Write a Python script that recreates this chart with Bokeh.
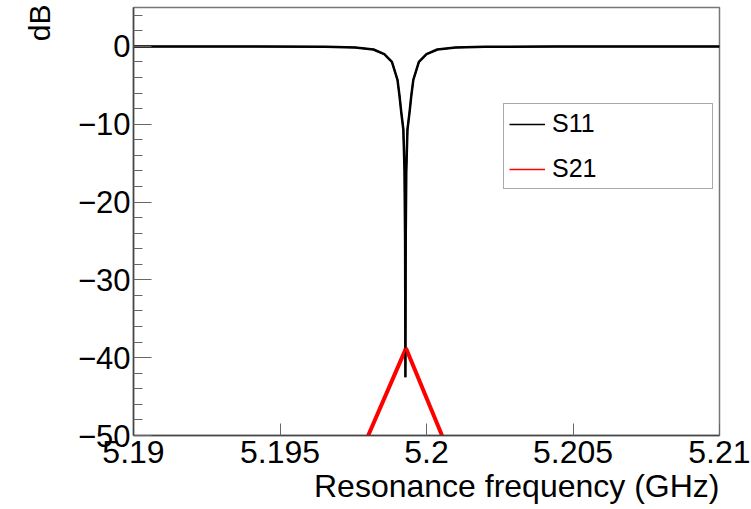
import math
from bokeh.plotting import figure
from bokeh.models import FixedTicker, Legend, LegendItem, Range1d, Title
from bokeh.embed import file_html
from bokeh.resources import INLINE

# ---- data ----
s11_freq_ghz = [5.19000, 5.19416, 5.19655, 5.19757, 5.19819, 5.19856, 5.19882,
                5.19901, 5.19908, 5.19914, 5.19921, 5.19925, 5.19927, 5.19928,
                5.19929, 5.19931, 5.19935, 5.19942, 5.19948, 5.19955, 5.19974,
                5.20000, 5.20037, 5.20099, 5.20201, 5.20440, 5.21000]
s11_db = [0.0, 0.0, -0.05, -0.15, -0.4, -1.0, -2.0,
          -4.3, -6.4, -8.5, -10.7, -16.0, -25.0, -42.5,
          -25.0, -16.0, -10.7, -8.5, -6.4, -4.3, -2.0,
          -1.0, -0.4, -0.15, -0.05, 0.0, 0.0]

s21_freq_ghz = [5.19801, 5.19930, 5.20053]
s21_db = [-50.0, -38.8, -50.0]

x_ticks = [5.19, 5.195, 5.2, 5.205, 5.21]
x_tick_labels = ["5.19", "5.195", "5.2", "5.205", "5.21"]
y_ticks = [-50, -40, -30, -20, -10, 0]
y_tick_labels = ["\u221250", "\u221240", "\u221230", "\u221220", "\u221210", "0"]
y_minor_ticks = [-48, -46, -44, -42, -38, -36, -34, -32, -28, -26, -24, -22,
                 -18, -16, -14, -12, -8, -6, -4, -2, 2, 4]

x_title = "Resonance frequency (GHz)"
y_title = "dB"
series_names = ["S11", "S21"]

FONT = "Liberation Sans"

p = figure(width=750, height=508, output_backend="svg", toolbar_location=None,
           x_range=Range1d(5.19, 5.21), y_range=Range1d(-50, 5),
           min_border_left=133, min_border_right=31, min_border_top=7,
           min_border_bottom=73)
p.grid.visible = False
p.outline_line_color = "#777777"
p.outline_line_width = 1.5
p.background_fill_color = "white"
p.border_fill_color = "white"

# glyphs
r_s11 = p.line(s11_freq_ghz, s11_db, line_color="black", line_width=2.5)
r_s21 = p.line(s21_freq_ghz, s21_db, line_color="#ff0000", line_width=4)

# thin overlays used as legend symbols (ROOT legend draws thin lines)
r_leg1 = p.line(s11_freq_ghz, s11_db, line_color="black", line_width=1.5)
r_leg2 = p.line(s21_freq_ghz, s21_db, line_color="#ff0000", line_width=1.5)

# axes styling
xa = p.xaxis[0]
xa.ticker = FixedTicker(ticks=x_ticks, minor_ticks=[])
xa.major_label_overrides = {t: s for t, s in zip(x_ticks, x_tick_labels)}
xa.major_tick_in = 12
xa.major_tick_out = 0
xa.minor_tick_in = 0
xa.minor_tick_out = 0
xa.major_label_standoff = 5
xa.major_label_text_font = FONT
xa.major_label_text_font_size = "32px"
xa.major_label_text_color = "black"
xa.axis_line_color = "#444444"
xa.axis_line_width = 1.5
xa.major_tick_line_color = "#666666"

ya = p.yaxis[0]
ya.ticker = FixedTicker(ticks=y_ticks, minor_ticks=y_minor_ticks)
ya.major_label_overrides = {t: s for t, s in zip(y_ticks, y_tick_labels)}
ya.major_tick_in = 18
ya.major_tick_out = 0
ya.minor_tick_in = 9
ya.minor_tick_out = 0
ya.major_label_standoff = 3
ya.major_label_text_font = FONT
ya.major_label_text_font_size = "31px"
ya.major_label_text_color = "black"
ya.axis_line_color = "#444444"
ya.axis_line_width = 1.5
ya.major_tick_line_color = "#666666"
ya.minor_tick_line_color = "#666666"

# axis titles (ROOT style: aligned to the end of the axis)
p.add_layout(Title(text=x_title, align="right", text_font=FONT,
                   text_font_size="32px", text_font_style="normal",
                   text_color="black", standoff=0), "below")
p.add_layout(Title(text=y_title, align="right", text_font=FONT,
                   text_font_size="30px", text_font_style="normal",
                   text_color="black", standoff=37, offset=-3), "left")

legend = Legend(items=[LegendItem(label=series_names[0], renderers=[r_leg1]),
                       LegendItem(label=series_names[1], renderers=[r_leg2])],
                location=(370, 246))
legend.border_line_color = "#555555"
legend.border_line_width = 1.5
legend.background_fill_color = "white"
legend.background_fill_alpha = 1.0
legend.padding = 5
legend.spacing = 16
legend.margin = 0
legend.glyph_width = 36
legend.glyph_height = 22
legend.label_height = 22
legend.label_standoff = 7
legend.label_width = 155
legend.label_text_font = FONT
legend.label_text_font_size = "25px"
legend.label_text_color = "black"
legend.label_text_baseline = "middle"
p.add_layout(legend)

open("out.html", "w").write(file_html(p, INLINE))
